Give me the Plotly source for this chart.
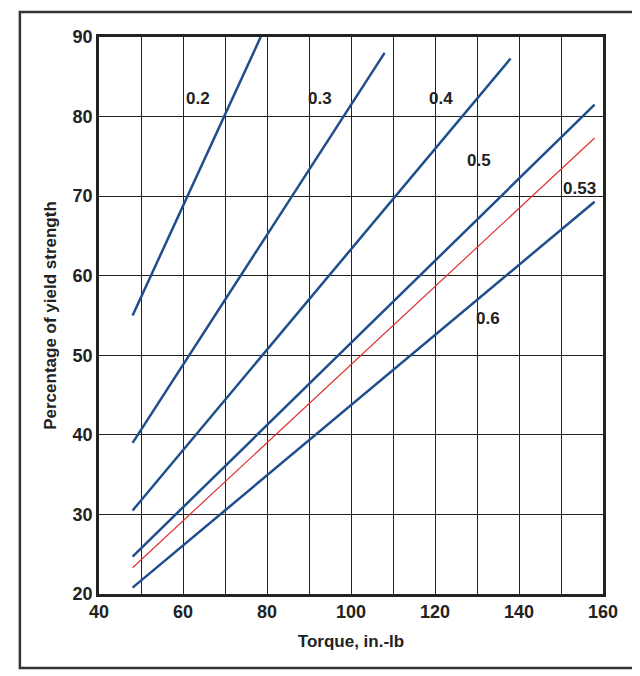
import plotly.graph_objects as go

names = ["0.2", "0.3", "0.4", "0.5", "0.53", "0.6"]
x_start = [48, 48, 48, 48, 48, 48]
x_end = [78.5, 108, 138, 158, 158, 158]
y_start = [55, 39, 30.5, 24.7, 23.3, 20.8]
y_end = [90, 88, 87.3, 81.5, 77.3, 69.3]
colors = ["#1f4e8c", "#1f4e8c", "#1f4e8c", "#1f4e8c", "#e03030", "#1f4e8c"]
widths = [2.5, 2.5, 2.5, 2.5, 1.2, 2.5]
label_x = [63.5, 92.5, 121.5, 130.5, 154.5, 132.5]
label_y = [82.3, 82.3, 82.3, 74.5, 71, 54.6]

fig = go.Figure()
for i, n in enumerate(names):
    fig.add_trace(go.Scatter(x=[x_start[i], x_end[i]], y=[y_start[i], y_end[i]], mode="lines",
                             line=dict(color=colors[i], width=widths[i]), showlegend=False))
    fig.add_annotation(x=label_x[i], y=label_y[i], text="<b>%s</b>" % n, showarrow=False,
                       font=dict(size=17, color="#222"))

ax = dict(showgrid=True, gridcolor="#222", gridwidth=1.2, showline=True, linecolor="#222", linewidth=2.5,
          mirror=True, zeroline=False, ticks="", automargin=False,
          tickfont=dict(size=18, color="#222", family="Liberation Sans", weight=600))
fig.update_xaxes(range=[40, 160], tickvals=list(range(40, 161, 20)), **ax,
                 title=dict(text="<b>Torque, in.-lb</b>", font=dict(size=17, color="#222"), standoff=14))
fig.update_xaxes(minor=dict(dtick=10, showgrid=True, gridcolor="#222", gridwidth=1.2))
fig.update_yaxes(range=[20, 90], dtick=10, **ax,
                 title=dict(text="<b>Percentage of yield strength</b>", font=dict(size=17, color="#222"), standoff=12))
fig.add_shape(type="rect", xref="paper", yref="paper", x0=-0.157, x1=1.06, y0=-0.133, y1=1.045,
              line=dict(color="#333", width=2.5))
fig.update_layout(width=640, height=676, margin=dict(l=91, r=45, t=29, b=90),
                  plot_bgcolor="white", paper_bgcolor="white",
                  font=dict(family="Liberation Sans", color="#222"))
fig.write_html("out.html")
